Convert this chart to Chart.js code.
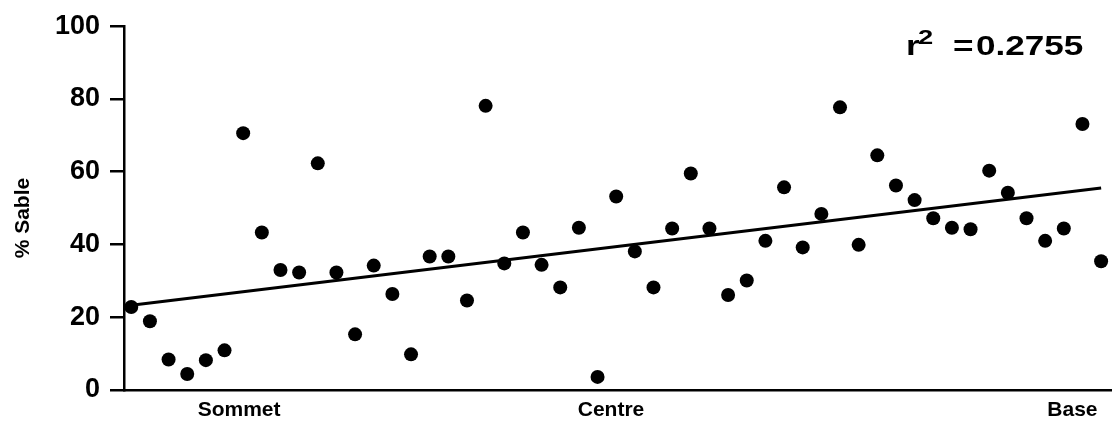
<!DOCTYPE html>
<html>
<head>
<meta charset="utf-8">
<script src="https://cdn.jsdelivr.net/npm/chart.js@4"></script>
<style>
    html, body { margin: 0; padding: 0; background: #fff; }
    #wrap { width: 1118px; height: 428px; position: relative; }
</style>
</head>
<body>
<div id="wrap"><canvas id="SableChart"></canvas></div>
<script>
// % sable par echantillon, du sommet vers la base
const sandValues = [
    22.8, 18.9, 8.4, 4.4, 8.2, 10.9, 70.6, 43.3, 33.0, 32.3,
    62.3, 32.3, 15.3, 34.2, 26.4, 9.8, 36.7, 36.7, 24.6, 78.1,
    34.8, 43.3, 34.4, 28.2, 44.6, 3.6, 53.2, 38.1, 28.2, 44.4,
    59.5, 44.4, 26.1, 30.1, 41.0, 55.7, 39.2, 48.4, 77.7, 39.9,
    64.5, 56.2, 52.2, 47.2, 44.6, 44.2, 60.3, 54.2, 47.2, 41.0,
    44.4, 73.1, 35.4
];

// droite de regression (debut / fin)
const trendX = [1, 53];
const trendY = [23.3, 55.5];

const zoneLabels = ["Sommet", "Centre", "Base"];
const zonePositions = [6.78, 26.72, 51.46];

const yTicks = [0, 20, 40, 60, 80, 100];
const yTitle = "% Sable";
const r2Value = "0.2755";

const fontFamily = "'Liberation Sans', Arial, Helvetica, sans-serif";

const scatterData = sandValues.map((v, i) => ({x: i + 1, y: v}));
const trendData = trendX.map((x, i) => ({x: x, y: trendY[i]}));

const labelsPlugin = {
    id: "labelsPlugin",
    afterDraw(chart) {
        const ctx = chart.ctx;
        const area = chart.chartArea;

        // titre de l'axe y
        ctx.save();
        ctx.translate(23, (area.top + area.bottom) / 2 + 10);
        ctx.rotate(-Math.PI / 2);
        ctx.font = `bold 21px ${fontFamily}`;
        ctx.fillStyle = "#000";
        ctx.textAlign = "center";
        ctx.textBaseline = "middle";
        ctx.fillText(yTitle, 0, 0);
        ctx.restore();

        // r2 (police elargie comme l'original)
        ctx.save();
        ctx.translate(area.right - 205, area.top + 29);
        ctx.scale(1.3, 1);
        ctx.fillStyle = "#000";
        ctx.textBaseline = "alphabetic";
        ctx.textAlign = "left";
        ctx.font = `bold 27px ${fontFamily}`;
        ctx.fillText("r", 0, 0);
        ctx.font = `bold 21px ${fontFamily}`;
        ctx.fillText("2", 9.2, -11);
        ctx.font = `bold 27px ${fontFamily}`;
        ctx.fillText("=", 36.2, 0);
        ctx.fillText(r2Value, 53.8, 0);
        ctx.restore();
    }
};

const config = {
    data: {
        datasets: [{
            type: "line",
            data: trendData,
            borderColor: "#000",
            borderWidth: 3,
            pointRadius: 0,
            fill: false,
            order: 2
        }, {
            type: "scatter",
            data: scatterData,
            backgroundColor: "#000",
            borderWidth: 0,
            pointRadius: 7,
            pointHoverRadius: 7,
            order: 1
        }]
    },
    options: {
        responsive: true,
        maintainAspectRatio: false,
        animation: false,
        layout: {
            padding: {top: 24, right: 0, bottom: 0, left: 0}
        },
        plugins: {
            legend: {display: false},
            tooltip: {enabled: false}
        },
        scales: {
            x: {
                type: "linear",
                min: 0.61,
                max: 53.53,
                afterBuildTicks(scale) {
                    scale.ticks = zonePositions.map(p => ({value: p}));
                },
                afterFit(scale) {
                    scale.height = 38;
                },
                ticks: {
                    autoSkip: false,
                    maxRotation: 0,
                    padding: 8,
                    color: "#000",
                    font: {family: fontFamily, size: 21, weight: "bold"},
                    callback: (value, index) => zoneLabels[index]
                },
                grid: {display: false, drawTicks: false},
                border: {display: true, color: "#000", width: 2.5}
            },
            y: {
                min: 0,
                max: 100,
                afterBuildTicks(scale) {
                    scale.ticks = yTicks.map(v => ({value: v}));
                },
                afterFit(scale) {
                    scale.width = 124;
                },
                ticks: {
                    padding: 10,
                    color: "#000",
                    font: {family: fontFamily, size: 27, weight: "bold"}
                },
                grid: {
                    drawOnChartArea: false,
                    drawTicks: true,
                    tickLength: 14,
                    color: "#000",
                    lineWidth: 2.5
                },
                border: {display: true, color: "#000", width: 2.5}
            }
        }
    },
    plugins: [labelsPlugin]
};

let sableChart = new Chart(document.getElementById("SableChart"), config);
</script>
</body>
</html>
